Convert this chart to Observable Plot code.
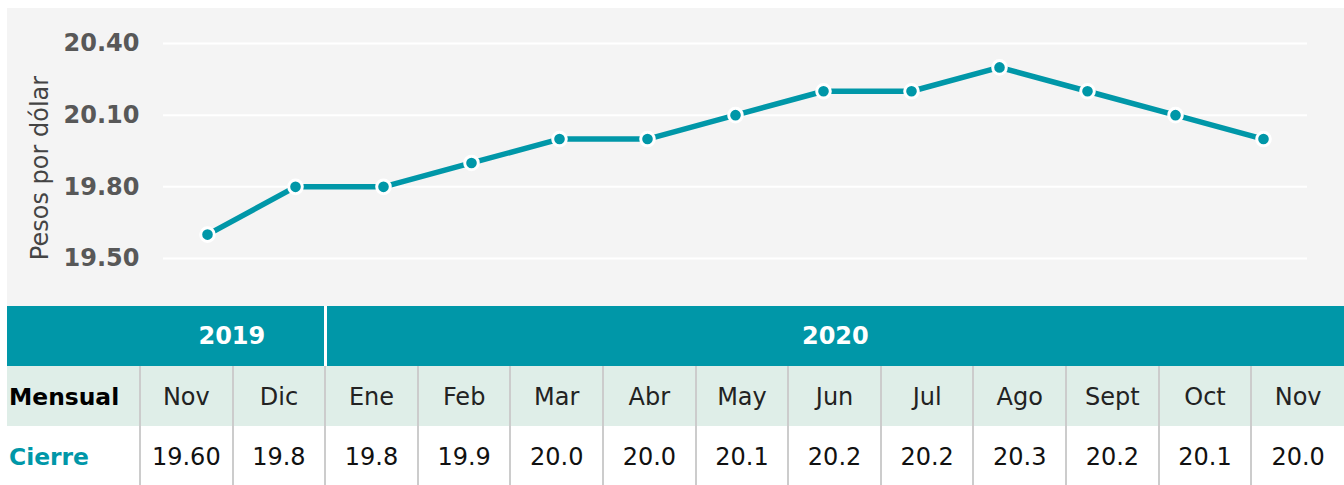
<!DOCTYPE html>
<html>
<head>
<meta charset="utf-8">
<script src="https://cdn.jsdelivr.net/npm/d3@7"></script>
<script src="https://cdn.jsdelivr.net/npm/@observablehq/plot@0.6"></script>
<style>
  html, body { margin: 0; padding: 0; background: #ffffff; }
  body { font-family: "DejaVu Sans", Verdana, sans-serif; }
  #wrap { position: absolute; left: 7px; top: 8px; width: 1337px; }
  #chart svg { display: block; background: #f4f4f4; }
  table { border-collapse: collapse; table-layout: fixed; width: 1337px; font-family: "DejaVu Sans", Verdana, sans-serif; font-size: 24px; }
  td { padding: 0; text-align: center; white-space: nowrap; overflow: hidden; box-sizing: border-box; }
  tr.years td { background: #0097a8; color: #ffffff; font-weight: bold; height: 60px; }
  tr.years td.y2019 { border-right: 3px solid #ffffff; }
  tr.months td { background: #dfeee8; color: #222222; height: 60px; padding-top: 2px; }
  tr.values td { background: #ffffff; color: #111111; height: 59px; padding-top: 2px; }
  tr.months td + td, tr.values td + td { border-left: 2px solid #cccccc; }
  td.rowlabel { text-align: left; padding-left: 2px; font-weight: bold; font-size: 23.4px; }
  tr.months td.rowlabel { color: #000000; }
  tr.values td.rowlabel { color: #0097a8; }
</style>
</head>
<body>
<div id="wrap">
  <div id="chart"></div>
  <div id="table"></div>
</div>
<script>
// ---- data ----
const years = ["2019", "2019", "2020", "2020", "2020", "2020", "2020", "2020", "2020", "2020", "2020", "2020", "2020"];
const months = ["Nov", "Dic", "Ene", "Feb", "Mar", "Abr", "May", "Jun", "Jul", "Ago", "Sept", "Oct", "Nov"];
const cierre = [19.60, 19.8, 19.8, 19.9, 20.0, 20.0, 20.1, 20.2, 20.2, 20.3, 20.2, 20.1, 20.0];
const cierreLabels = ["19.60", "19.8", "19.8", "19.9", "20.0", "20.0", "20.1", "20.2", "20.2", "20.3", "20.2", "20.1", "20.0"];
const yTicks = [19.5, 19.8, 20.1, 20.4];
const yearGroups = ["2019", "2020"];
const yLabel = "Pesos por dólar";
const rowLabelMonths = "Mensual";
const rowLabelValues = "Cierre";

const teal = "#0097a8";
const data = months.map((m, i) => ({ key: years[i] + "-" + m, month: m, year: years[i], value: cierre[i] }));

const chart = Plot.plot({
  width: 1337,
  height: 298,
  marginLeft: 156,
  marginRight: 37,
  marginTop: 35,
  marginBottom: 48,
  style: { fontFamily: "DejaVu Sans, Verdana, sans-serif", background: "#f4f4f4" },
  x: { type: "point", domain: data.map(d => d.key), padding: 0.5, axis: null },
  y: { domain: [19.5, 20.4], axis: null },
  marks: [
    Plot.gridY(yTicks, { stroke: "#ffffff", strokeOpacity: 1, strokeWidth: 2 }),
    Plot.axisY({
      ticks: yTicks,
      tickFormat: d3.format(".2f"),
      tickSize: 0,
      tickPadding: 24,
      fontSize: 24,
      fontWeight: "bold",
      fill: "#585858",
      label: null
    }),
    Plot.text([yLabel], {
      frameAnchor: "left",
      dx: -123,
      dy: 17,
      rotate: -90,
      textAnchor: "middle",
      lineAnchor: "middle",
      fontSize: 24,
      fill: "#444444"
    }),
    Plot.line(data, { x: "key", y: "value", stroke: teal, strokeWidth: 5.5 }),
    Plot.dot(data, { x: "key", y: "value", r: 6.8, fill: teal, stroke: "#ffffff", strokeWidth: 3 })
  ]
});
document.getElementById("chart").appendChild(chart);

// ---- table ----
const table = document.createElement("table");
const colgroup = document.createElement("colgroup");
const c0 = document.createElement("col");
c0.style.width = "133px";
colgroup.appendChild(c0);
months.forEach(() => colgroup.appendChild(document.createElement("col")));
table.appendChild(colgroup);

const trY = document.createElement("tr");
trY.className = "years";
const tdBlank = document.createElement("td");
trY.appendChild(tdBlank);
yearGroups.forEach(y => {
  const td = document.createElement("td");
  td.colSpan = years.filter(v => v === y).length;
  td.textContent = y;
  td.className = "y" + y;
  trY.appendChild(td);
});
table.appendChild(trY);

const trM = document.createElement("tr");
trM.className = "months";
const tdML = document.createElement("td");
tdML.className = "rowlabel";
tdML.textContent = rowLabelMonths;
trM.appendChild(tdML);
months.forEach(m => {
  const td = document.createElement("td");
  td.textContent = m;
  trM.appendChild(td);
});
table.appendChild(trM);

const trV = document.createElement("tr");
trV.className = "values";
const tdVL = document.createElement("td");
tdVL.className = "rowlabel";
tdVL.textContent = rowLabelValues;
trV.appendChild(tdVL);
cierreLabels.forEach(v => {
  const td = document.createElement("td");
  td.textContent = v;
  trV.appendChild(td);
});
table.appendChild(trV);

document.getElementById("table").appendChild(table);
</script>
</body>
</html>
